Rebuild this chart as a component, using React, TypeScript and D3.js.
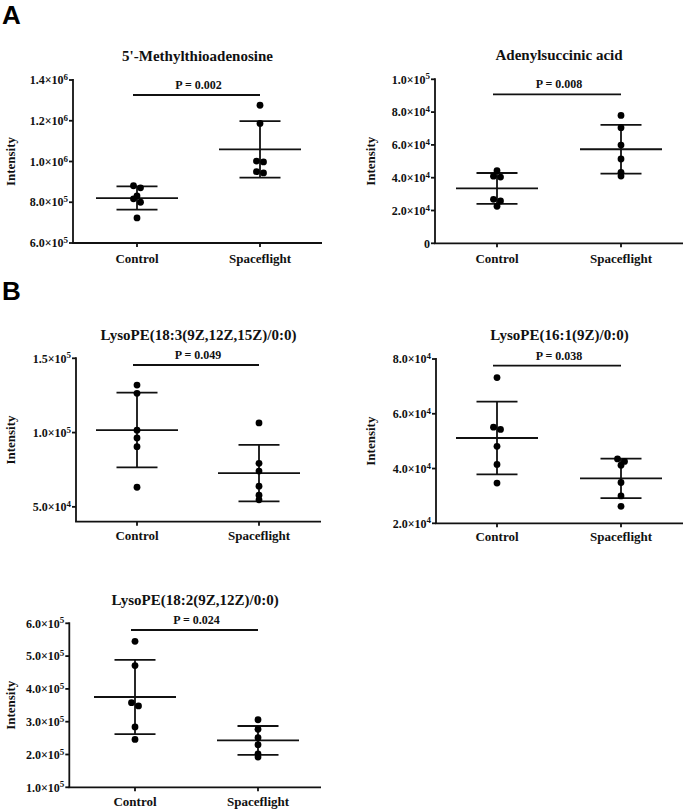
import { useMemo } from 'react';
import * as d3 from 'd3';

// values (n = 6 per group)
const groups = ['Control', 'Spaceflight'];

const mtaControl = [8.81e5, 8.71e5, 8.31e5, 8.17e5, 8.0e5, 7.23e5];
const mtaSpaceflight = [1.276e6, 1.187e6, 1.002e6, 0.998e6, 0.95e6, 0.944e6];
const adsControl = [4.43e4, 4.09e4, 4.04e4, 2.68e4, 2.58e4, 2.26e4];
const adsSpaceflight = [7.8e4, 7.05e4, 5.99e4, 5.14e4, 4.33e4, 4.1e4];
const lpe183Control = [1.32e5, 1.264e5, 1.016e5, 0.964e5, 0.905e5, 0.632e5];
const lpe183Spaceflight = [1.065e5, 0.793e5, 0.741e5, 0.639e5, 0.578e5, 0.547e5];
const lpe161Control = [7.32e4, 5.51e4, 5.43e4, 4.81e4, 4.15e4, 3.47e4];
const lpe161Spaceflight = [4.35e4, 4.26e4, 4.12e4, 3.49e4, 3.0e4, 2.62e4];
const lpe182Control = [5.45e5, 4.71e5, 3.58e5, 3.48e5, 2.84e5, 2.46e5];
const lpe182Spaceflight = [3.06e5, 2.77e5, 2.51e5, 2.3e5, 2.02e5, 1.92e5];

const titles = [
  "5'-Methylthioadenosine",
  'Adenylsuccinic acid',
  'LysoPE(18:3(9Z,12Z,15Z)/0:0)',
  'LysoPE(16:1(9Z)/0:0)',
  'LysoPE(18:2(9Z,12Z)/0:0)',
];
const pValues = ['P = 0.002', 'P = 0.008', 'P = 0.049', 'P = 0.038', 'P = 0.024'];

const mtaTicks = [6e5, 8e5, 1e6, 1.2e6, 1.4e6];
const adsTicks = [0, 2e4, 4e4, 6e4, 8e4, 1e5];
const lpe183Ticks = [5e4, 1e5, 1.5e5];
const lpe161Ticks = [2e4, 4e4, 6e4, 8e4];
const lpe182Ticks = [1e5, 2e5, 3e5, 4e5, 5e5, 6e5];

const serif = { fontFamily: "'Liberation Serif', 'Times New Roman', serif" };
const sans = { fontFamily: "'Liberation Sans', Arial, sans-serif" };

// panel frames (layout only)
const frames = [
  { left: 73, right: 322, top: 80, bottom: 243, c: 137, s: 260, titleY: 56, pY: 85, sigY: 95, labelY: 258, yLabX: 10 },
  { left: 435, right: 683, top: 79.3, bottom: 243.3, c: 497, s: 621, titleY: 55, pY: 84, sigY: 94.3, labelY: 258, yLabX: 370 },
  { left: 76, right: 321, top: 358.3, bottom: 521.7, c: 137, s: 259, titleY: 335, pY: 355, sigY: 365, labelY: 535, yLabX: 10 },
  { left: 436, right: 683, top: 359, bottom: 523.3, c: 497, s: 621, titleY: 335, pY: 356, sigY: 365.7, labelY: 536.5, yLabX: 370 },
  { left: 69.3, right: 321, top: 623.3, bottom: 787.3, c: 135, s: 258, titleY: 600, pY: 620, sigY: 630, labelY: 801.5, yLabX: 10 },
];

function tickParts(v: number) {
  if (v === 0) return { m: '0', e: '' };
  const e = Math.floor(Math.log10(v) + 1e-9);
  const m = (v / Math.pow(10, e)).toFixed(1);
  return { m: `${m}×10`, e: String(e) };
}

// spread points that sit in the same row, like a scatter-dot plot
function swarm(values: number[], y: d3.ScaleLinear<number, number>, step: number) {
  const rows = d3.group(values.map((v, i) => ({ v, i })), d => Math.floor(y(d.v) / step));
  const offs = new Array(values.length).fill(0);
  rows.forEach(row => {
    row.sort((a, b) => b.v - a.v);
    row.forEach((d, k) => { offs[d.i] = (k - (row.length - 1) / 2) * step; });
  });
  return offs;
}

function Panel({ idx, control, flight, domain, ticks }: {
  idx: number; control: number[]; flight: number[]; domain: [number, number]; ticks: number[];
}) {
  const f = frames[idx];
  const y = d3.scaleLinear().domain(domain).range([f.bottom, f.top]);
  const x = d3.scalePoint<string>().domain(groups).range([f.c, f.s]);
  const sets = [control, flight];
  const sw = 1.8;
  const r = 3.4;

  return (
    <g style={serif} fontWeight="bold" fill="#111">
      <text x={(f.left + f.right) / 2} y={f.titleY} dy="0.35em" textAnchor="middle" fontSize={15}>
        {titles[idx]}
      </text>
      <text x={(x('Control')! + x('Spaceflight')!) / 2} y={f.pY} dy="0.35em" textAnchor="middle" fontSize={12}>
        {pValues[idx]}
      </text>
      <line x1={x('Control')! - 4} x2={x('Spaceflight')!} y1={f.sigY} y2={f.sigY} stroke="#111" strokeWidth={sw} />

      {/* y axis */}
      <line x1={f.left} x2={f.left} y1={f.top - 1} y2={f.bottom} stroke="#111" strokeWidth={sw} />
      {ticks.map(t => {
        const p = tickParts(t);
        return (
          <g key={t}>
            <line x1={f.left - 4} x2={f.left} y1={y(t)} y2={y(t)} stroke="#111" strokeWidth={sw} />
            <text x={f.left - 5} y={y(t)} dy="0.35em" textAnchor="end" fontSize={12}>
              {p.m}
              {p.e && <tspan fontSize={9} dy="-0.45em">{p.e}</tspan>}
            </text>
          </g>
        );
      })}
      <text
        transform={`translate(${f.yLabX},${(f.top + f.bottom) / 2}) rotate(-90)`}
        dy="0.35em" textAnchor="middle" fontSize={13}
      >
        Intensity
      </text>

      {/* x axis */}
      <line x1={f.left - sw / 2} x2={f.right} y1={f.bottom} y2={f.bottom} stroke="#111" strokeWidth={sw} />
      {groups.map(g => (
        <g key={g}>
          <line x1={x(g)} x2={x(g)} y1={f.bottom} y2={f.bottom + 4} stroke="#111" strokeWidth={sw} />
          <text x={x(g)} y={f.labelY} dy="0.35em" textAnchor="middle" fontSize={13}>{g}</text>
        </g>
      ))}

      {/* mean ± SD and dots */}
      {sets.map((vals, gi) => {
        const cx = x(groups[gi])!;
        const m = d3.mean(vals)!;
        const sd = d3.deviation(vals)!;
        const offs = swarm(vals, y, 7);
        return (
          <g key={gi}>
            <line x1={cx} x2={cx} y1={y(m - sd)} y2={y(m + sd)} stroke="#111" strokeWidth={sw} />
            <line x1={cx - 41} x2={cx + 41} y1={y(m)} y2={y(m)} stroke="#111" strokeWidth={sw} />
            <line x1={cx - 20.5} x2={cx + 20.5} y1={y(m + sd)} y2={y(m + sd)} stroke="#111" strokeWidth={sw} />
            <line x1={cx - 20.5} x2={cx + 20.5} y1={y(m - sd)} y2={y(m - sd)} stroke="#111" strokeWidth={sw} />
            {vals.map((v, i) => (
              <circle key={i} cx={cx + offs[i]} cy={y(v)} r={r} fill="#000" />
            ))}
          </g>
        );
      })}
    </g>
  );
}

export default function App() {
  const panels = useMemo(() => [
    { control: mtaControl, flight: mtaSpaceflight, domain: [6e5, 1.4e6] as [number, number], ticks: mtaTicks },
    { control: adsControl, flight: adsSpaceflight, domain: [0, 1e5] as [number, number], ticks: adsTicks },
    { control: lpe183Control, flight: lpe183Spaceflight, domain: [4e4, 1.5e5] as [number, number], ticks: lpe183Ticks },
    { control: lpe161Control, flight: lpe161Spaceflight, domain: [2e4, 8e4] as [number, number], ticks: lpe161Ticks },
    { control: lpe182Control, flight: lpe182Spaceflight, domain: [1e5, 6e5] as [number, number], ticks: lpe182Ticks },
  ], []);

  return (
    <svg width={685} height={809} style={{ position: 'absolute', left: 0, top: 0, background: '#fff' }}>
      <rect width={685} height={809} fill="#fff" />
      <text x={2} y={24} style={sans} fontWeight="bold" fontSize={26}>A</text>
      <text x={2} y={300} style={sans} fontWeight="bold" fontSize={26}>B</text>
      {panels.map((p, i) => (
        <Panel key={i} idx={i} {...p} />
      ))}
    </svg>
  );
}
